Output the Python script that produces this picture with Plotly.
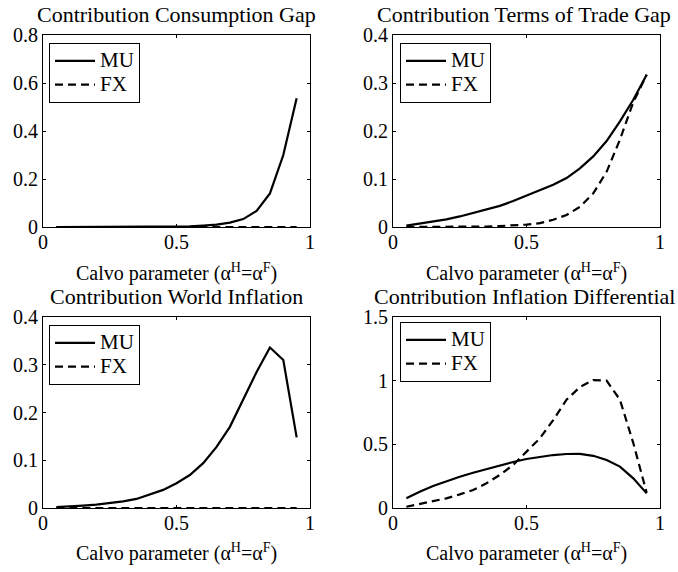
import plotly.graph_objects as go

# Calvo parameter grid (alpha^H = alpha^F)
calvo = [0.05, 0.10, 0.15, 0.20, 0.25, 0.30, 0.35, 0.40, 0.45, 0.50,
         0.55, 0.60, 0.65, 0.70, 0.75, 0.80, 0.85, 0.90, 0.95]

# Contribution consumption gap
cons_mu = [0.000, 0.000, 0.000, 0.000, 0.000, 0.000, 0.000, 0.001, 0.001, 0.002,
           0.003, 0.006, 0.010, 0.018, 0.033, 0.067, 0.140, 0.300, 0.536]
cons_fx = [0.0] * 19

# Contribution terms of trade gap
tot_mu = [0.003, 0.007, 0.011, 0.016, 0.022, 0.029, 0.036, 0.044, 0.054, 0.065,
          0.076, 0.088, 0.102, 0.122, 0.147, 0.179, 0.220, 0.265, 0.317]
tot_fx = [0.000, 0.000, 0.000, 0.000, 0.000, 0.001, 0.001, 0.002, 0.003, 0.005,
          0.008, 0.015, 0.025, 0.042, 0.070, 0.115, 0.182, 0.260, 0.317]

# Contribution world inflation
world_mu = [0.002, 0.003, 0.005, 0.007, 0.010, 0.014, 0.019, 0.028, 0.038, 0.052,
            0.069, 0.094, 0.128, 0.170, 0.226, 0.285, 0.336, 0.310, 0.148]
world_fx = [0.0] * 19

# Contribution inflation differential
diff_mu = [0.076, 0.128, 0.173, 0.212, 0.246, 0.277, 0.306, 0.332, 0.361, 0.385,
           0.403, 0.416, 0.424, 0.425, 0.410, 0.377, 0.325, 0.233, 0.115]
diff_fx = [0.010, 0.031, 0.050, 0.076, 0.107, 0.141, 0.194, 0.260, 0.338, 0.440,
           0.547, 0.690, 0.850, 0.950, 1.005, 1.000, 0.850, 0.510, 0.120]

titles = ["Contribution Consumption Gap", "Contribution Terms of Trade Gap",
          "Contribution World Inflation", "Contribution Inflation Differential"]
y_ranges = [[0, 0.8], [0, 0.4], [0, 0.4], [0, 1.5]]
y_dticks = [0.2, 0.1, 0.1, 0.5]
xlabel = "Calvo parameter (α<sup>H</sup>=α<sup>F</sup>)"

W, H = 678, 572
FONT = "Liberation Serif, Times New Roman, serif"

# axes boxes in pixels (left, right, top, bottom)
boxes = [(43, 310, 35, 227), (393, 660, 35, 227),
         (43, 310, 317, 508), (393, 660, 317, 508)]
legend_pos = [(49, 43), (400, 43), (49, 325), (400, 322)]
title_y = [14, 14, 296, 296]
xlabel_y = [272, 272, 552, 552]
title_x = [176, 524, 176, 524]

series = [(cons_mu, cons_fx), (tot_mu, tot_fx), (world_mu, world_fx), (diff_mu, diff_fx)]


def leg_name(s):
    # legend rows are spaced from the legend font size; the label itself is drawn larger
    return f"<span style='font-size:21px'>{s}</span>"


fig = go.Figure()
layout = dict(
    width=W, height=H,
    margin=dict(l=0, r=0, t=0, b=0),
    paper_bgcolor="white", plot_bgcolor="white",
    font=dict(family=FONT, size=20, color="black"),
    annotations=[],
)

for i, (mu, fx) in enumerate(series):
    n = "" if i == 0 else str(i + 1)
    leg = "legend" + n
    fig.add_trace(go.Scatter(x=calvo, y=mu, mode="lines", name=leg_name("MU"),
                             line=dict(color="black", width=2.2),
                             xaxis="x" + n, yaxis="y" + n, legend=leg))
    fig.add_trace(go.Scatter(x=calvo, y=fx, mode="lines", name=leg_name("FX"),
                             line=dict(color="black", width=2.2, dash="8px,5px"),
                             xaxis="x" + n, yaxis="y" + n, legend=leg))

    l, r, t, b = boxes[i]
    common = dict(showline=True, linecolor="black", linewidth=1, mirror="ticks",
                  ticks="inside", ticklen=3, tickcolor="black", showgrid=False,
                  zeroline=False, automargin=False,
                  tickfont=dict(family=FONT, size=20, color="black"))
    layout["xaxis" + n] = dict(domain=[l / W, r / W], range=[0, 1], dtick=0.5,
                               anchor="y" + n, ticklabelstandoff=-3, **common)
    layout["yaxis" + n] = dict(domain=[1 - b / H, 1 - t / H], range=y_ranges[i],
                               dtick=y_dticks[i], anchor="x" + n, **common)

    lx, ly = legend_pos[i]
    layout[leg] = dict(x=lx / W, y=1 - ly / H, xanchor="left", yanchor="top",
                       bgcolor="white", bordercolor="black", borderwidth=1,
                       itemwidth=40, tracegroupgap=0,
                       font=dict(family=FONT, size=16, color="black"))

    cx = (l + r) / 2 / W
    layout["annotations"].append(dict(text=titles[i], x=title_x[i] / W, y=1 - title_y[i] / H,
                                      xref="paper", yref="paper", showarrow=False,
                                      xanchor="center", yanchor="middle",
                                      font=dict(family=FONT, size=22, color="black")))
    layout["annotations"].append(dict(text=xlabel, x=cx, y=1 - xlabel_y[i] / H,
                                      xref="paper", yref="paper", showarrow=False,
                                      xanchor="center", yanchor="middle",
                                      font=dict(family=FONT, size=20, color="black")))

fig.update_layout(**layout)
# drop the browser's default 8px body margin so the figure sits at the page corner
fig.write_html("out.html", config={"displayModeBar": False},
               post_script="document.body.style.margin='0';")
